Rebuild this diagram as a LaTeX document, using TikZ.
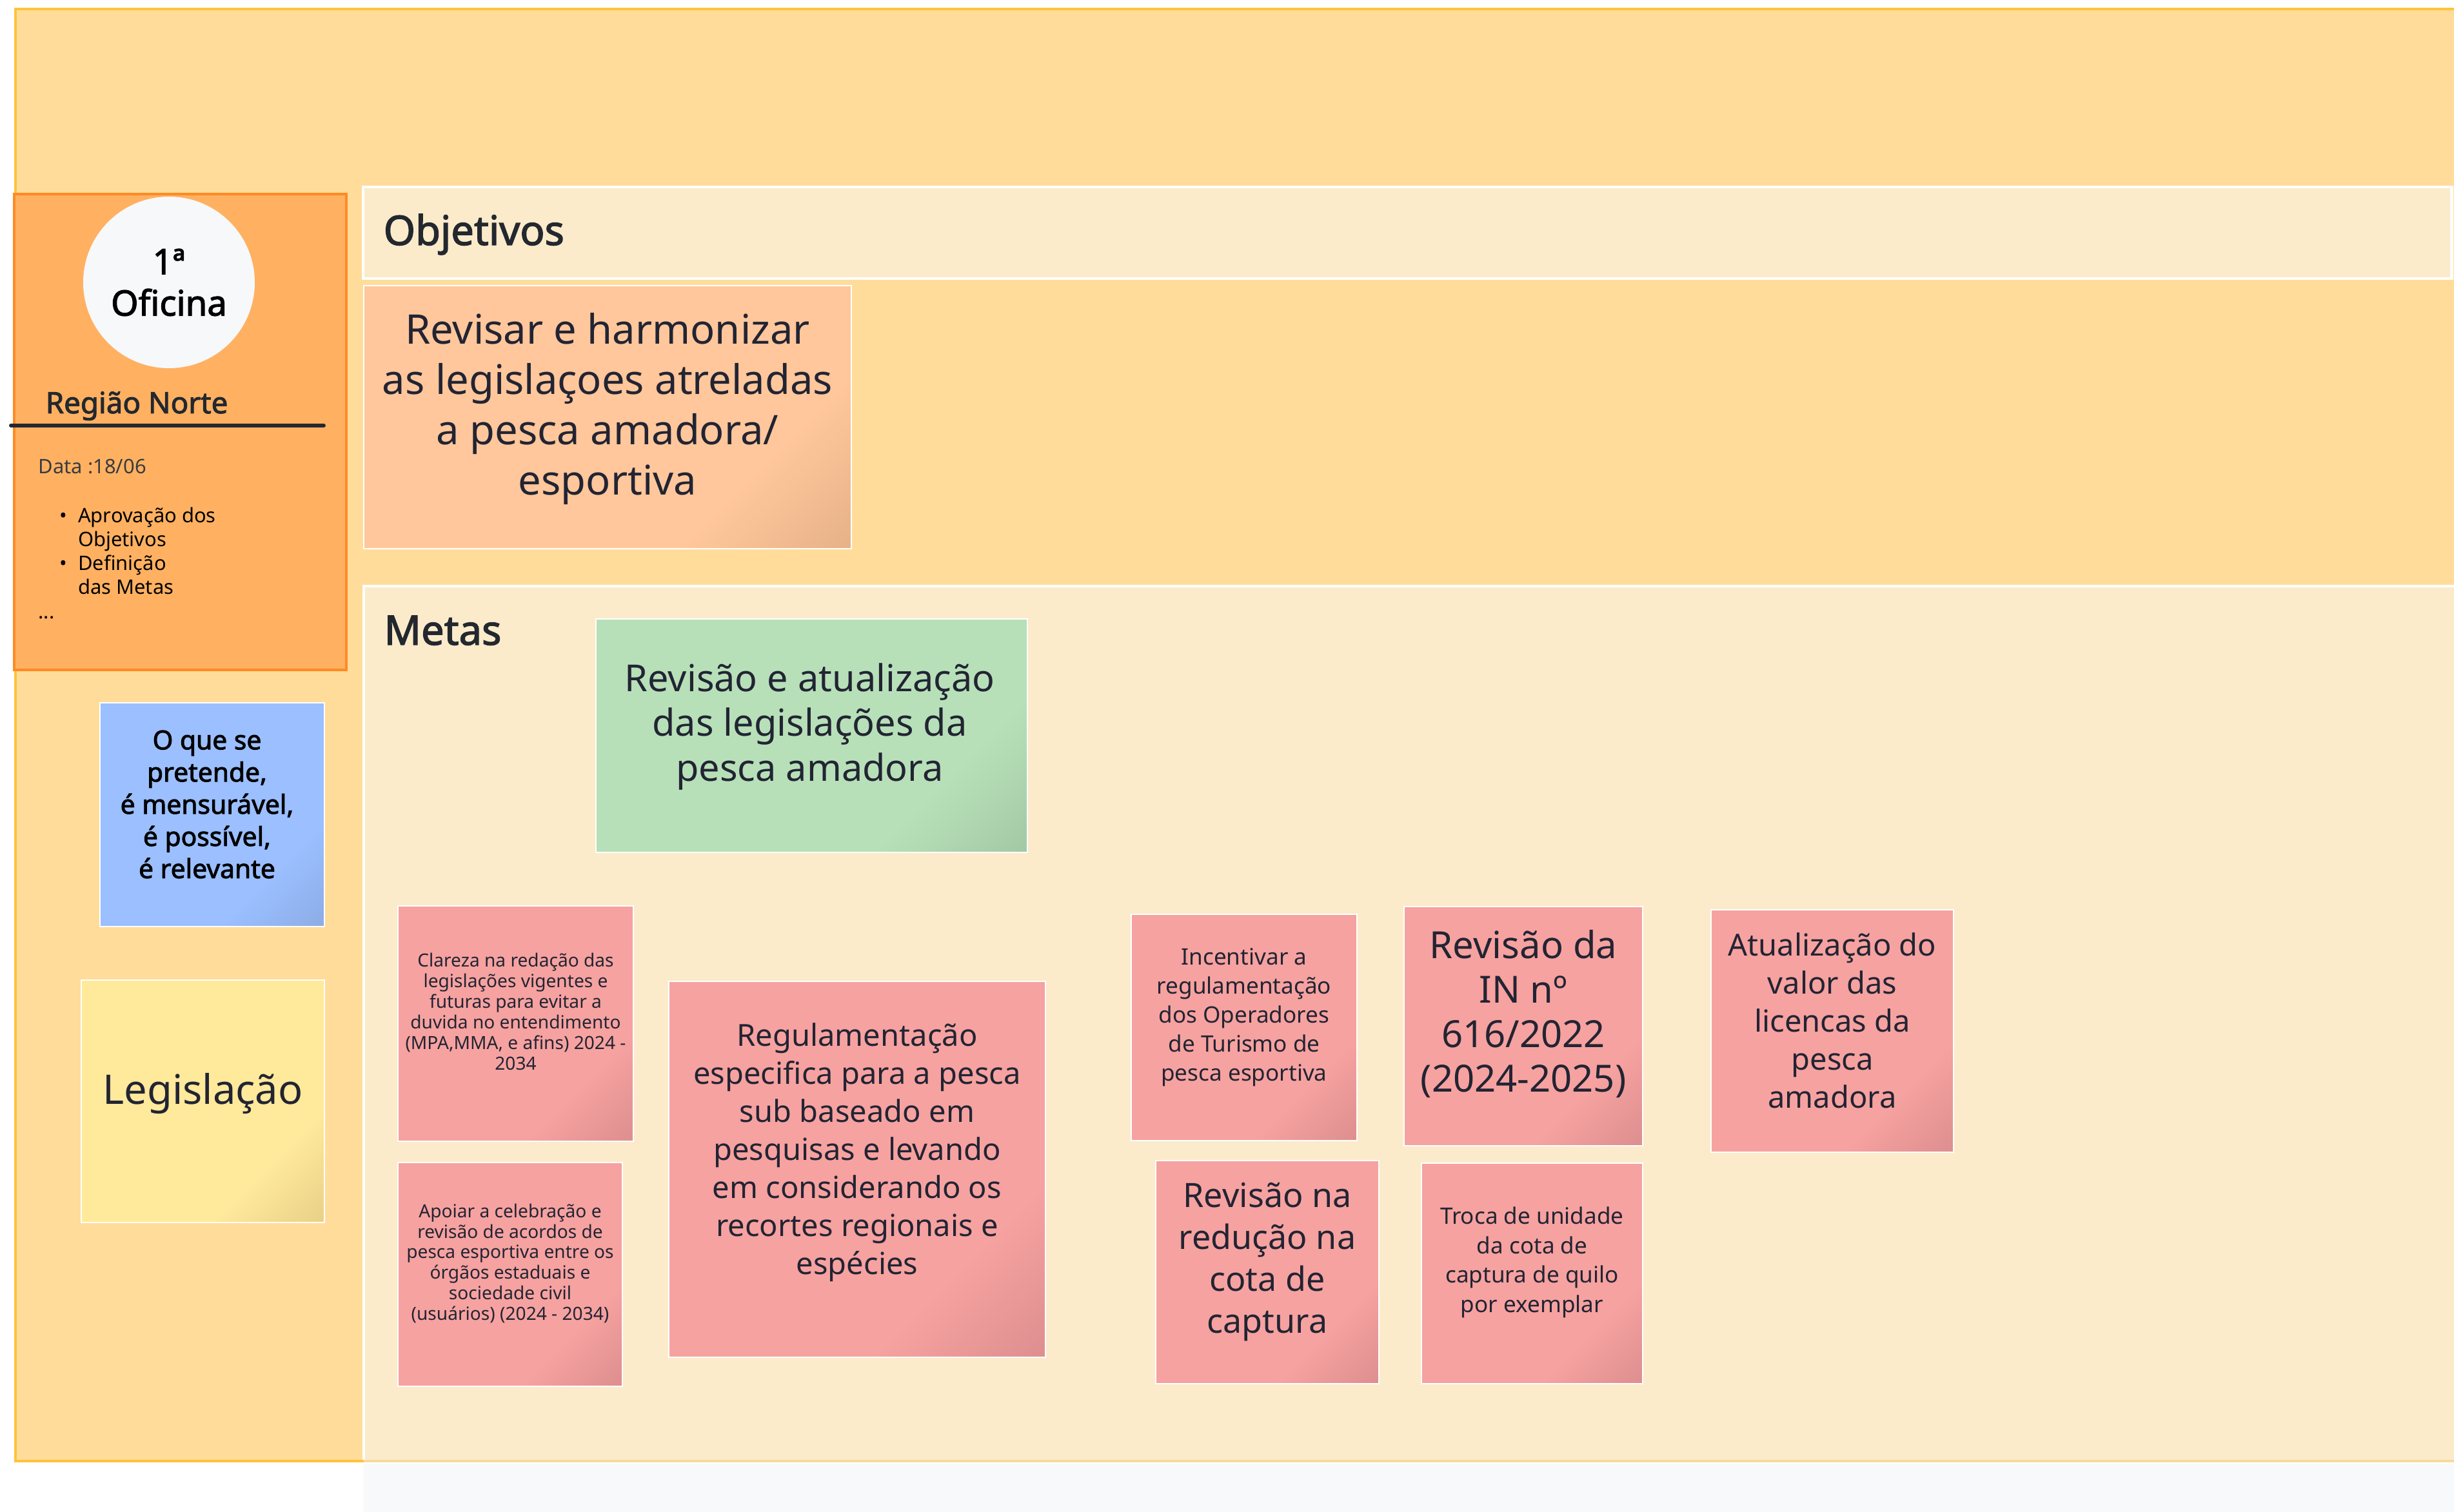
\documentclass[tikz,border=0pt]{standalone}
\usepackage{fontspec}
\setmainfont{Noto Sans}[AutoFakeBold=2.2]
\usepackage{tikz}
\usetikzlibrary{positioning}

\definecolor{boardfill}{HTML}{FFDC9A}
\definecolor{boardline}{HTML}{FFC23A}
\definecolor{cardfill}{HTML}{FFB161}
\definecolor{cardline}{HTML}{FF8A25}
\definecolor{panelfill}{HTML}{FBEBCB}
\definecolor{paleline}{HTML}{F8DA9E}
\definecolor{badgefill}{HTML}{F7F8FA}
\definecolor{belowfill}{HTML}{F8F9FA}
\definecolor{ink}{HTML}{222433}
\definecolor{titleink}{HTML}{23282F}
\definecolor{dataink}{HTML}{3A3B40}
\definecolor{pinknote}{HTML}{F6A2A0}
\definecolor{pinkdark}{HTML}{CC8083}
\definecolor{bluenote}{HTML}{9BBFFF}
\definecolor{bluedark}{HTML}{819FD4}
\definecolor{yellownote}{HTML}{FFE99B}
\definecolor{yellowdark}{HTML}{D8C07A}
\definecolor{peachnote}{HTML}{FFC79B}
\definecolor{peachdark}{HTML}{D6A27C}
\definecolor{greennote}{HTML}{B7E0B8}
\definecolor{greendark}{HTML}{95B896}

\colorlet{notefill}{pinknote}
\colorlet{notedark}{pinkdark}
\pgfdeclareverticalshading[notefill,notedark]{notefade}{100bp}
  {color(0bp)=(notedark); color(3bp)=(notedark); color(31bp)=(notefill); color(100bp)=(notefill)}

\newcommand{\fs}[2]{\fontsize{#1pt}{#2pt}\selectfont}

\begin{document}
\begin{tikzpicture}[x=1cm, y=-1cm,
    note/.style 2 args={rectangle, draw=white, line width=0.7pt, fill=#1, inner sep=0pt,
      path picture={\colorlet{notefill}{#1}\colorlet{notedark}{#2}
        \shade[shading=notefade, shading angle=45]
          (path picture bounding box.south west) rectangle (path picture bounding box.north east);}},
    notetext/.style={text=ink, align=center, inner sep=0pt},
    heading/.style={text=titleink, font=\fs{18}{22}\bfseries, anchor=base west, inner sep=0pt}]

    \useasboundingbox (0,0) rectangle (38.05,23.45);
    \clip (0,0) rectangle (38.05,23.45);
    \fill[white] (0,0) rectangle (38.05,23.45);

    \draw[boardline, line width=1.4pt, fill=boardfill] (0.24,0.14) rectangle (38.6,22.66);
    \fill[belowfill] (5.64,22.70) rectangle (38.05,23.45);

    \fill[panelfill] (5.64,9.09) rectangle (38.6,22.64);
    \draw[paleline, line width=1.2pt] (5.64,22.66) -- (38.6,22.66);
    \draw[white, line width=1.1pt] (38.6,9.09) -- (5.64,9.09) -- (5.64,22.64);
    \draw[white, line width=1.4pt, fill=panelfill] (5.63,2.90) rectangle (38.01,4.32);

    \node[heading] (objetivos) at (5.94,3.80) {Objetivos};
    \node[heading] (metas) at (5.95,10.00) {Metas};

    \draw[cardline, line width=1.4pt, fill=cardfill] (0.22,3.01) rectangle (5.37,10.39);
    \node[circle, fill=badgefill, minimum size=2.66cm, inner sep=0pt, align=center,
        text=black, font=\fs{15.5}{18.3}\bfseries] (badge) at (2.62,4.38) {1ª\\Oficina};
    \node[anchor=base west, inner sep=0pt, text=titleink, font=\fs{13}{15.5}\bfseries]
        (regiao) at (0.70,6.41) {Região Norte};
    \draw[titleink, line width=1.7pt, line cap=round] (0.17,6.60) -- (5.02,6.60);
    \node[anchor=base west, inner sep=0pt, text=dataink, font=\fs{8.8}{10.5}]
        (data) at (0.59,7.35) {Data :18/06};
    \node[anchor=north west, inner sep=0pt, text=black, font=\fs{8.8}{10.5}] (pauta) at (0.92,7.84)
        {\begin{tabular}{@{}l@{\hspace{4.8pt}}l@{}}
          \textbullet & Aprovação dos\\
                      & Objetivos\\
          \textbullet & Definição\\
                      & das Metas
         \end{tabular}};
    \node[anchor=base west, inner sep=0pt, text=black, font=\fs{8.8}{10.5}] (etc) at (0.59,9.59) {...};

    \node[note={bluenote}{bluedark}, minimum width=3.48cm, minimum height=3.47cm] (criterio) at (3.29,12.635) {};
    \node[notetext, text=black, font=\fs{11.6}{14.2}\bfseries] (criterio-txt) at ([xshift=-0.08cm, yshift=0.16cm]criterio.center)
        {O que se\\pretende,\\é mensurável,\\é possível,\\é relevante};

    \node[note={yellownote}{yellowdark}, minimum width=3.77cm, minimum height=3.76cm] (legis) at (3.145,17.08) {};
    \node[notetext, font=\fs{18}{22}] (legis-txt) at ([yshift=0.12cm]legis.center) {Legislação};

    \node[note={peachnote}{peachdark}, minimum width=7.565cm, minimum height=4.08cm] (objetivo) at (9.42,6.47) {};
    \node[notetext, font=\fs{18}{22.2}] (objetivo-txt) at ([yshift=0.125cm]objetivo.center)
        {Revisar e harmonizar\\as legislaçoes atreladas\\a pesca amadora/\\esportiva};

    \node[note={greennote}{greendark}, minimum width=6.69cm, minimum height=3.62cm] (meta) at (12.585,11.41) {};
    \node[notetext, font=\fs{16.4}{19.9}] (meta-txt) at ([xshift=-0.03cm, yshift=0.14cm]meta.center)
        {Revisão e atualização\\das legislações da\\pesca amadora};

    \node[note={pinknote}{pinkdark}, minimum width=3.65cm, minimum height=3.65cm] (clareza) at (7.995,15.875) {};
    \node[notetext, font=\fs{8}{9.1}] (clareza-txt) at ([yshift=0.19cm]clareza.center)
        {Clareza na redação das\\legislações vigentes e\\futuras para evitar a\\duvida no entendimento\\(MPA,MMA, e afins) 2024 -\\2034};

    \node[note={pinknote}{pinkdark}, minimum width=3.48cm, minimum height=3.47cm] (apoiar) at (7.91,19.765) {};
    \node[notetext, font=\fs{8}{9.1}] (apoiar-txt) at ([yshift=0.17cm]apoiar.center)
        {Apoiar a celebração e\\revisão de acordos de\\pesca esportiva entre os\\órgãos estaduais e\\sociedade civil\\(usuários) (2024 - 2034)};

    \node[note={pinknote}{pinkdark}, minimum width=5.84cm, minimum height=5.83cm] (regulam) at (13.29,18.135) {};
    \node[notetext, font=\fs{13.4}{16.8}] (regulam-txt) at ([yshift=0.26cm]regulam.center)
        {Regulamentação\\especifica para a pesca\\sub baseado em\\pesquisas e levando\\em considerando os\\recortes regionais e\\espécies};

    \node[note={pinknote}{pinkdark}, minimum width=3.50cm, minimum height=3.51cm] (incentivo) at (19.29,15.935) {};
    \node[notetext, font=\fs{10}{12.8}] (incentivo-txt) at ([yshift=0.16cm]incentivo.center)
        {Incentivar a\\regulamentação\\dos Operadores\\de Turismo de\\pesca esportiva};

    \node[note={pinknote}{pinkdark}, minimum width=3.46cm, minimum height=3.46cm] (reducao) at (19.65,19.73) {};
    \node[notetext, font=\fs{14.8}{18.5}] (reducao-txt) at ([yshift=0.16cm]reducao.center)
        {Revisão na\\redução na\\cota de\\captura};

    \node[note={pinknote}{pinkdark}, minimum width=3.70cm, minimum height=3.71cm] (instrucao) at (23.62,15.915) {};
    \node[notetext, font=\fs{16.5}{19.6}] (instrucao-txt) at ([yshift=0.19cm]instrucao.center)
        {Revisão da\\IN nº\\616/2022\\(2024-2025)};

    \node[note={pinknote}{pinkdark}, minimum width=3.43cm, minimum height=3.42cm] (troca) at (23.755,19.75) {};
    \node[notetext, font=\fs{10}{13}] (troca-txt) at ([yshift=0.17cm]troca.center)
        {Troca de unidade\\da cota de\\captura de quilo\\por exemplar};

    \node[note={pinknote}{pinkdark}, minimum width=3.76cm, minimum height=3.76cm] (licenca) at (28.41,15.99) {};
    \node[notetext, font=\fs{13.4}{16.8}] (licenca-txt) at ([yshift=0.16cm]licenca.center)
        {Atualização do\\valor das\\licencas da\\pesca\\amadora};
\end{tikzpicture}
\end{document}
